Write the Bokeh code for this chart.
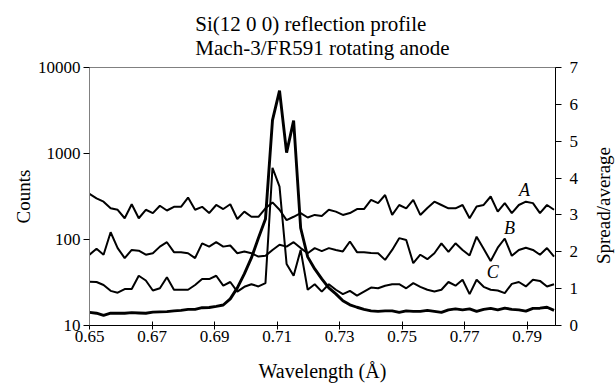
import math
import numpy as np
from bokeh.plotting import figure
from bokeh.layouts import row
from bokeh.models import (Range1d, LinearAxis, LinearScale, FixedTicker, Title, Label,
                          PrintfTickFormatter)
from bokeh.embed import file_html
from bokeh.resources import INLINE

# ---- data ----
wavelength = np.round(0.65 + 0.002252 * np.arange(67), 5)

counts = [14.2, 13.9, 13.1, 13.9, 13.9, 13.9, 14.1, 14.0, 13.9, 14.3,
          14.4, 14.5, 14.8, 15.0, 15.4, 15.4, 16.1, 16.2, 16.7, 17.3,
          20.4, 27.4, 39.8, 61.1, 104, 173, 2445, 5380, 1025, 2412,
          136, 62.8, 45.5, 34.8, 27.4, 23.3, 19.4, 17.4, 16.3, 15.4,
          14.8, 14.6, 14.8, 14.8, 14.2, 14.8, 14.6, 14.6, 15.0, 14.6,
          14.2, 15.2, 15.6, 15.2, 15.6, 14.6, 15.4, 15.8, 15.2, 15.9,
          15.4, 15.2, 14.7, 15.8, 15.9, 16.3, 15.0]

spread_A = [3.57, 3.45, 3.36, 3.18, 3.14, 2.91, 3.29, 2.91, 3.14, 3.05,
            3.25, 3.12, 3.22, 3.22, 3.47, 3.14, 3.22, 3.05, 3.27, 3.16,
            3.29, 2.89, 3.09, 2.95, 2.95, 3.18, 3.34, 3.14, 2.86, 2.95,
            3.05, 2.93, 3.00, 2.97, 3.14, 3.09, 3.00, 3.05, 3.16, 3.16,
            3.41, 3.32, 3.54, 3.00, 3.27, 3.18, 3.41, 3.00, 3.19, 3.36,
            3.27, 3.18, 3.18, 3.27, 2.91, 3.23, 3.27, 3.50, 3.09, 3.32,
            3.05, 3.27, 3.36, 3.32, 3.05, 3.27, 3.14]

spread_B = [1.92, 2.08, 1.92, 2.53, 2.10, 1.83, 2.05, 2.03, 1.92, 1.96,
            2.14, 2.26, 1.99, 1.99, 1.96, 1.83, 2.23, 2.14, 2.26, 2.14,
            2.17, 1.96, 2.01, 1.96, 1.87, 1.89, 2.05, 2.19, 2.14, 2.26,
            2.10, 1.96, 2.10, 2.02, 2.10, 2.05, 2.01, 2.28, 1.99, 1.99,
            1.97, 1.96, 1.78, 2.05, 2.37, 2.32, 1.69, 1.92, 1.80, 1.96,
            2.23, 2.00, 2.23, 2.05, 1.90, 2.41, 2.08, 1.75, 2.11, 2.36,
            1.89, 2.05, 2.11, 2.05, 1.92, 2.10, 1.87]

spread_C = [1.19, 1.18, 1.10, 0.94, 0.89, 0.99, 0.99, 1.35, 1.22, 0.95,
            1.01, 1.31, 0.97, 0.97, 0.97, 1.10, 1.26, 1.26, 1.35, 1.08,
            1.18, 0.92, 1.05, 1.12, 1.06, 1.15, 4.28, 3.77, 1.67, 1.35,
            2.05, 0.97, 1.12, 0.92, 1.12, 0.97, 0.85, 0.94, 0.81, 0.92,
            1.03, 1.01, 1.08, 1.12, 1.12, 1.01, 1.15, 1.05, 0.97, 0.92,
            0.97, 1.18, 1.08, 1.24, 0.85, 1.24, 1.05, 0.97, 0.95, 0.88,
            1.13, 1.18, 1.06, 1.24, 1.21, 1.06, 1.12]

x_ticks = [0.65, 0.67, 0.69, 0.71, 0.73, 0.75, 0.77, 0.79]
y_ticks = [10, 100, 1000, 10000]
r_ticks = [0, 1, 2, 3, 4, 5, 6, 7]

FONT = "Liberation Serif"

W, H = 591, 384
p = figure(width=W, height=H, x_range=Range1d(0.65, 0.7991),
           y_range=Range1d(10, 10000), y_axis_type="log",
           output_backend="svg", toolbar_location=None, title=None,
           min_border_left=89, min_border_right=W - 555, min_border_top=67,
           min_border_bottom=H - 326)
p.extra_y_ranges = {"r": Range1d(0, 7)}
p.extra_y_scales = {"r": LinearScale()}

p.xgrid.visible = False
p.ygrid.visible = False
p.outline_line_color = "#808080"
p.outline_line_width = 1

# lines
p.line(wavelength, counts, line_width=2.9, color="black")
for s in (spread_A, spread_B, spread_C):
    p.line(wavelength, s, y_range_name="r", line_width=2.0, color="black")

# axes
xa = p.xaxis[0]
xa.ticker = FixedTicker(ticks=x_ticks)
xa.formatter = PrintfTickFormatter(format="%.2f")
xa.major_tick_in = 4
xa.major_tick_out = 4
xa.minor_tick_line_color = None
xa.axis_line_color = "black"
xa.axis_label = "Wavelength (Å)"
xa.major_label_standoff = 1
xa.axis_label_standoff = 15

ya = p.yaxis[0]
ya.ticker = FixedTicker(ticks=y_ticks)
ya.formatter = PrintfTickFormatter(format="%d")
ya.major_tick_in = 0
ya.major_tick_out = 6
ya.minor_tick_line_color = None
ya.axis_line_color = "#808080"
ya.axis_label = "Counts"
ya.major_label_standoff = 3
ya.axis_label_standoff = 1

ra = LinearAxis(y_range_name="r", ticker=FixedTicker(ticks=r_ticks))
ra.major_tick_in = 0
ra.major_tick_out = 6
ra.minor_tick_line_color = None
ra.axis_line_color = "black"
ra.major_label_standoff = 8
p.add_layout(ra, "right")

for ax in (xa, ya, ra):
    ax.major_label_text_font = FONT
    ax.major_label_text_font_size = "17px"
    ax.major_label_text_color = "black"
    ax.axis_label_text_font = FONT
    ax.axis_label_text_font_size = "19px"
    ax.axis_label_text_font_style = "normal"
    ax.axis_label_text_color = "black"
    ax.major_tick_line_color = "black"
xa.axis_label_text_font_size = "20px"

# title (two lines)
p.add_layout(Title(text="Si(12 0 0) reflection profile\nMach-3/FR591 rotating anode",
                   align="center", text_font=FONT, text_font_size="21px",
                   text_font_style="normal", text_color="black", offset=8,
                   text_line_height=1.0, standoff=15),
             "above")

# curve labels
for txt, xx, yy in (("A", 0.7892, 3.68), ("B", 0.7844, 2.65), ("C", 0.7790, 1.46)):
    p.add_layout(Label(x=xx, y=yy, y_range_name="r", text=txt, text_font=FONT,
                       text_font_size="18px", text_font_style="italic",
                       text_color="black", text_align="center",
                       text_baseline="middle"))

# narrow strip on the right carrying the right-axis title (reads bottom-to-top);
# its frame is aligned with the main frame (y measured from the frame bottom)
q = figure(width=24, height=H, output_backend="svg", toolbar_location=None,
           title=None, x_axis_location=None, y_axis_location=None,
           min_border=0, outline_line_color=None)
q.xgrid.visible = False
q.ygrid.visible = False
q.add_layout(Label(x=12, y=326 - 206, x_units="screen", y_units="screen",
                   text="Spread/average", angle=math.pi / 2, text_font=FONT,
                   text_font_size="19px", text_color="black",
                   text_align="center", text_baseline="middle"))

layout = row(p, q, spacing=0)
open("out.html", "w").write(file_html(layout, INLINE))
